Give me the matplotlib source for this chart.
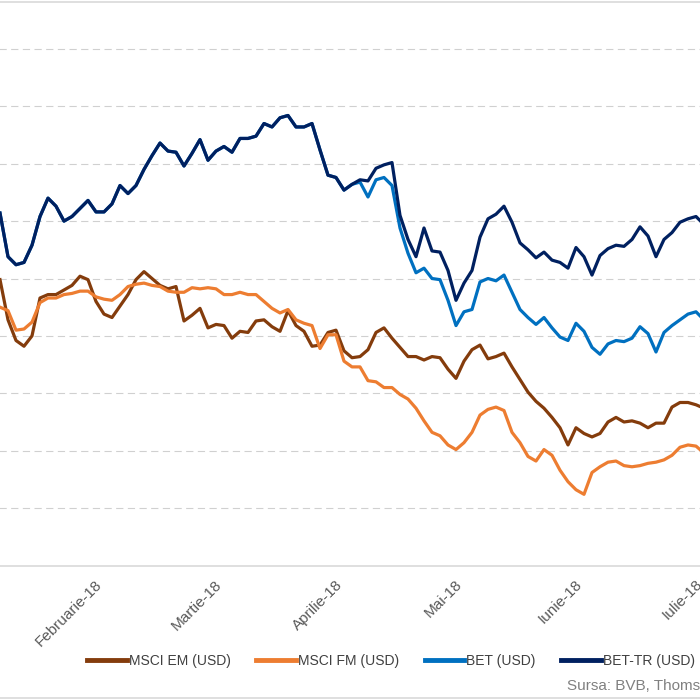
import matplotlib
matplotlib.use("Agg")
import matplotlib.pyplot as plt
from matplotlib.lines import Line2D
from matplotlib import font_manager

# ---------------- data (performance, %, sampled roughly every 2 days) ----------------
month_labels = ["Februarie-18", "Martie-18", "Aprilie-18", "Mai-18", "Iunie-18", "Iulie-18"]

bet_tr = [5.7, 1.9, 1.2, 1.4, 2.9, 5.4, 7.0, 6.3, 5.0, 5.4,
          6.1, 6.8, 5.8, 5.8, 6.5, 8.1, 7.4, 8.1, 9.5, 10.7,
          11.8, 11.1, 11.0, 9.8, 10.9, 12.1, 10.3, 11.1, 11.5, 11.0,
          12.2, 12.2, 12.4, 13.5, 13.2, 14.0, 14.2, 13.2, 13.2, 13.5,
          11.2, 9.0, 8.8, 7.7, 8.2, 8.6, 8.5, 9.6, 9.9, 10.1,
          5.5, 3.4, 1.9, 4.4, 2.4, 2.3, 0.7, -1.9, -0.4, 0.7,
          3.6, 5.2, 5.6, 6.3, 4.9, 3.1, 2.5, 1.8, 2.3, 1.6,
          1.4, 0.9, 2.7, 1.9, 0.3, 2.0, 2.6, 2.9, 2.8, 3.4,
          4.5, 3.7, 1.9, 3.4, 4.0, 4.9, 5.2, 5.4, 4.7]

bet = [5.7, 1.9, 1.2, 1.4, 2.9, 5.4, 7.0, 6.3, 5.0, 5.4,
       6.1, 6.8, 5.8, 5.8, 6.5, 8.1, 7.4, 8.1, 9.5, 10.7,
       11.8, 11.1, 11.0, 9.8, 10.9, 12.1, 10.3, 11.1, 11.5, 11.0,
       12.2, 12.2, 12.4, 13.5, 13.2, 14.0, 14.2, 13.2, 13.2, 13.5,
       11.2, 9.0, 8.8, 7.7, 8.2, 8.4, 7.1, 8.6, 8.8, 8.1,
       4.4, 2.2, 0.5, 0.9, 0.0, -0.1, -1.9, -4.1, -2.9, -2.7,
       -0.3, 0.0, -0.2, 0.3, -1.2, -2.7, -3.4, -4.0, -3.4, -4.3,
       -5.1, -5.4, -3.9, -4.6, -6.0, -6.6, -5.7, -5.4, -5.5, -5.2,
       -4.2, -4.8, -6.4, -4.7, -4.1, -3.6, -3.1, -2.9, -3.6]

msci_em = [-0.1, -3.6, -5.4, -5.9, -5.0, -1.7, -1.4, -1.4, -1.0, -0.6,
           0.2, -0.1, -2.0, -3.1, -3.4, -2.4, -1.4, -0.1, 0.6, 0.0,
           -0.6, -0.9, -0.7, -3.7, -3.2, -2.6, -4.3, -4.0, -4.1, -5.2,
           -4.6, -4.7, -3.7, -3.6, -4.2, -4.6, -2.8, -4.1, -4.6, -5.9,
           -5.8, -4.7, -4.5, -6.3, -6.9, -6.8, -6.2, -4.7, -4.3, -5.2,
           -6.0, -6.8, -6.8, -7.1, -6.8, -6.9, -7.9, -8.7, -7.2, -6.2,
           -5.8, -7.0, -6.8, -6.5, -7.7, -8.8, -9.9, -10.7, -11.3, -12.1,
           -13.0, -14.5, -13.0, -13.5, -13.8, -13.5, -12.5, -12.1, -12.5, -12.4,
           -12.6, -13.0, -12.6, -12.6, -11.2, -10.8, -10.8, -11.0, -11.3]

msci_fm = [-2.5, -2.8, -4.5, -4.4, -3.8, -2.1, -1.7, -1.7, -1.4, -1.3,
           -1.1, -1.1, -1.6, -1.8, -1.9, -1.4, -0.7, -0.5, -0.4, -0.6,
           -0.7, -1.1, -1.2, -1.2, -0.8, -0.9, -0.8, -0.9, -1.4, -1.4,
           -1.2, -1.4, -1.4, -2.0, -2.6, -3.0, -2.7, -3.6, -3.9, -4.1,
           -6.1, -4.9, -4.9, -7.2, -7.7, -7.7, -8.9, -9.0, -9.5, -9.5,
           -10.1, -10.5, -11.3, -12.4, -13.4, -13.7, -14.5, -14.9, -14.3, -13.4,
           -11.9, -11.4, -11.2, -11.5, -13.4, -14.3, -15.5, -15.9, -14.9, -15.4,
           -16.7, -17.7, -18.4, -18.8, -16.9, -16.4, -16.0, -15.9, -16.3, -16.4,
           -16.3, -16.1, -16.0, -15.8, -15.4, -14.7, -14.5, -14.6, -15.2]

series_names = ["MSCI EM (USD)", "MSCI FM (USD)", "BET (USD)", "BET-TR (USD)"]
series_colors = ["#843C0C", "#ED7D31", "#0070C0", "#002060"]
source_text = "Sursa: BVB, Thomson Reuters"

# ---------------- style ----------------
avail = {f.name for f in font_manager.fontManager.ttflist}
fam = "Liberation Sans Narrow" if "Liberation Sans Narrow" in avail else "Liberation Sans"
plt.rcParams["font.family"] = [fam, "DejaVu Sans"]

fig = plt.figure(figsize=(7, 7), dpi=100)
ax = fig.add_axes([-0.05, 0.19214, 1.1, 0.82])

x = list(range(len(bet_tr)))
all_series = [msci_em, msci_fm, bet, bet_tr]
handles = []
for vals, name, col in zip(all_series, series_names, series_colors):
    h, = ax.plot(x, vals, color=col, lw=2.3, label=name, solid_joinstyle="round")
    handles.append(h)

ax.set_xlim(-4.375, 91.875)
ax.set_ylim(-25, 25)
ax.set_yticks(list(range(-20, 25, 5)))
ax.yaxis.grid(True, linestyle=(0, (6.5, 4)), color="#D0D0D0", lw=0.8)
ax.set_axisbelow(True)
ax.tick_params(axis="y", length=0, labelleft=False)

tick_pos = [12.5 + 15 * i for i in range(len(month_labels))]
ax.set_xticks(tick_pos)
ax.set_xticklabels(month_labels, rotation=45, ha="right", va="center",
                   rotation_mode="anchor", color="#595959", fontsize=11)
ax.tick_params(axis="x", length=0, pad=12)

for s in ["top", "left", "right"]:
    ax.spines[s].set_visible(False)
ax.spines["bottom"].set_color("#D9D9D9")
ax.spines["bottom"].set_linewidth(1.2)

# chart border lines (top & bottom of chart area)
fig.add_artist(Line2D([0, 1], [1 - 2 / 700, 1 - 2 / 700], transform=fig.transFigure,
                      color="#D9D9D9", lw=1.2))
fig.add_artist(Line2D([0, 1], [2 / 700, 2 / 700], transform=fig.transFigure,
                      color="#D9D9D9", lw=1.2))

leg = fig.legend(handles=handles, loc="center", bbox_to_anchor=(391 / 700, 1 - 661 / 700),
                 ncol=4, frameon=False, fontsize=10, handlelength=2.85,
                 handletextpad=0.15, columnspacing=1.85)
for t in leg.get_texts():
    t.set_color("#404040")
for lh in leg.get_lines():
    lh.set_linewidth(3.5)

fig.text(567 / 700, 1 - 686 / 700, source_text, color="#808080", fontsize=11,
         ha="left", va="center")

fig.savefig("out.png", dpi=100)
